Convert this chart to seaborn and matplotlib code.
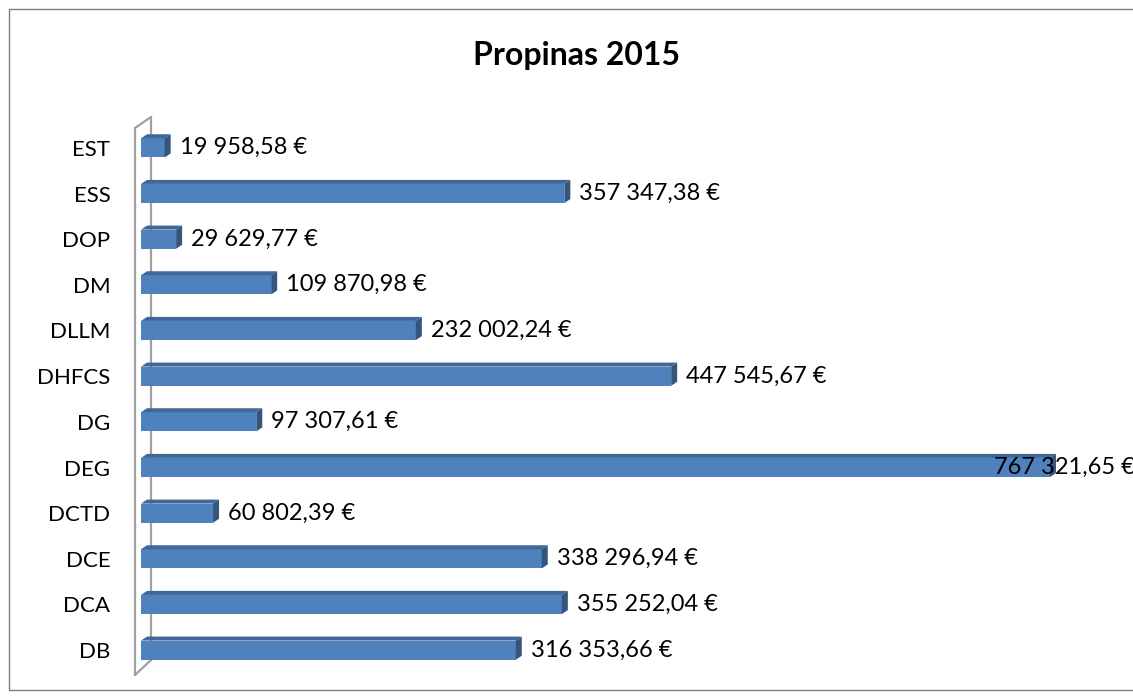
import matplotlib
matplotlib.use('Agg')
import matplotlib.pyplot as plt
import seaborn as sns
import pandas as pd
from matplotlib.patches import Polygon, Rectangle
from matplotlib.lines import Line2D

categories = ['EST', 'ESS', 'DOP', 'DM', 'DLLM', 'DHFCS', 'DG', 'DEG', 'DCTD', 'DCE', 'DCA', 'DB']
values = [19958.58, 357347.38, 29629.77, 109870.98, 232002.24, 447545.67,
          97307.61, 767321.65, 60802.39, 338296.94, 355252.04, 316353.66]
title = 'Propinas 2015'

sns.set_theme(style='white')
plt.rcParams['font.family'] = ['Lato', 'DejaVu Sans']

W, H = 1133, 700
fig = plt.figure(figsize=(W / 100, H / 100), dpi=100)
fig.patch.set_facecolor('white')

ax_left, ax_top, ax_bot = 141, 125, 673
ax = fig.add_axes([ax_left / W, (H - ax_bot) / H, (W - ax_left) / W, (ax_bot - ax_top) / H])
ax.patch.set_visible(False)

df = pd.DataFrame({'category': categories, 'value': values})
front = '#4F81BD'
top_c = '#3F6797'
side_c = '#34567E'
bar_w = 0.42
sns.barplot(data=df, x='value', y='category', orient='h', color=front, saturation=1,
            width=bar_w, ax=ax, order=categories, linewidth=0, zorder=3)

xmax = 837400
ax.set_xlim(0, xmax)
ax.set_ylim(len(categories) - 0.5, -0.5)
ax_w_px = W - ax_left
row_px = (ax_bot - ax_top) / len(categories)
dx = 6 * xmax / ax_w_px
dy = 4 / row_px

for p in ax.patches[:len(categories)]:
    x0, w = p.get_x(), p.get_width()
    yt = p.get_y()
    yb = yt + p.get_height()
    ax.add_patch(Polygon([(x0, yt), (x0 + w, yt), (x0 + w + dx, yt - dy), (x0 + dx, yt - dy)],
                         closed=True, facecolor=top_c, edgecolor='none', zorder=3))
    ax.add_patch(Polygon([(x0 + w, yt), (x0 + w + dx, yt - dy), (x0 + w + dx, yb - dy), (x0 + w, yb)],
                         closed=True, facecolor=side_c, edgecolor='none', zorder=3))

def fmt(v):
    s = f"{v:,.2f}".replace(',', ' ').replace('.', ',')
    return s + ' €'

for i, v in enumerate(values):
    if v / xmax > 0.85:
        ax.annotate(fmt(v), xy=(xmax, i), xytext=(2, 0), textcoords='offset pixels',
                    ha='right', va='center', fontsize=17, color='black', zorder=5,
                    annotation_clip=False)
    else:
        ax.annotate(fmt(v), xy=(v, i), xytext=(15, 0), textcoords='offset pixels',
                    ha='left', va='center', fontsize=17, color='black', zorder=5)

ax.set_xlabel('')
ax.set_ylabel('')
ax.set_xticks([])
ax.tick_params(axis='y', length=0, pad=22, labelsize=16, colors='black')
for s in ax.spines.values():
    s.set_visible(False)

# 3D wall on the left
def fx(x):
    return x / W
def fy(y):
    return 1 - y / H
wall = '#A0A0A0'
for (x1, y1), (x2, y2) in [((135, 128), (135, 675)), ((151, 117), (151, 660)),
                           ((135, 128), (151, 117)), ((135, 675), (151, 660))]:
    fig.add_artist(Line2D([fx(x1), fx(x2)], [fy(y1), fy(y2)], transform=fig.transFigure,
                          color=wall, lw=1.6, zorder=-1))

# outer border
fig.add_artist(Rectangle((fx(9), fy(690)), 1.2, fy(9) - fy(690), transform=fig.transFigure,
                         fill=False, edgecolor='#7F7F7F', lw=1.0, zorder=-2))

fig.text(577 / W, fy(65), title, ha='center', va='baseline', fontsize=23, fontweight='bold',
         color='black')

fig.savefig('out.png', dpi=100)
